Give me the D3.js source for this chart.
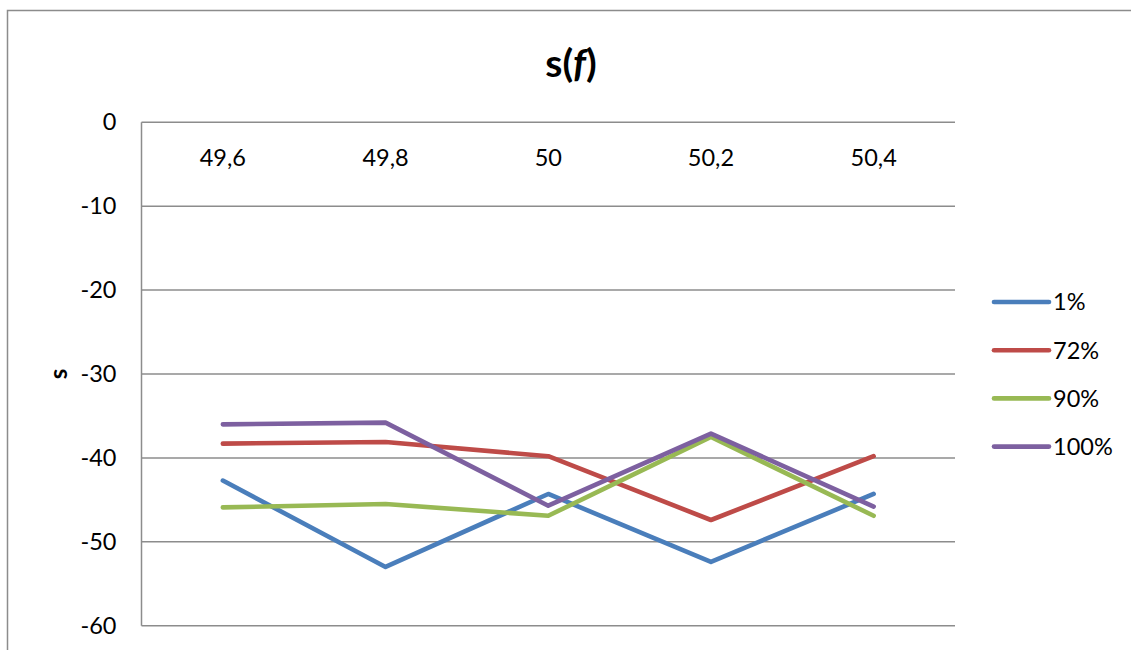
<!DOCTYPE html>
<html>
<head>
<meta charset="utf-8">
<script src="https://cdn.jsdelivr.net/npm/d3@7"></script>
<style>
  html, body { margin: 0; padding: 0; background: #fff; }
  svg { display: block; }
  text { font-family: Lato, "Open Sans", "Liberation Sans", sans-serif; fill: #000; }
</style>
</head>
<body>
<svg id="chart" width="1131" height="650"></svg>
<script>
// Frequency categories (x) and the series measured at each of them
const categories = ["49,6", "49,8", "50", "50,2", "50,4"];
const seriesNames = ["1%", "72%", "90%", "100%"];
const s1   = [-42.7, -53.0, -44.3, -52.4, -44.3];
const s72  = [-38.3, -38.1, -39.8, -47.4, -39.8];
const s90  = [-45.9, -45.5, -46.9, -37.5, -46.9];
const s100 = [-36.0, -35.8, -45.7, -37.1, -45.8];
const yTicks = [0, -10, -20, -30, -40, -50, -60];

const seriesValues = [s1, s72, s90, s100];
const colors = ["#4A7EBB", "#BE4B48", "#98B954", "#7D60A0"];

const svg = d3.select("#chart");
const W = 1131, H = 650;
const plot = { left: 141.5, right: 955, top: 122.3, bottom: 625.7 };
const labelFont = "23.5px";
const lineWidth = 4.6;

// outer chart frame
svg.append("rect")
  .attr("x", 7.5).attr("y", 10.5)
  .attr("width", W + 20).attr("height", H + 20)
  .attr("fill", "#fff").attr("stroke", "#8c8c8c").attr("stroke-width", 1.5);

const x = d3.scaleBand().domain(categories).range([plot.left, plot.right]);
const y = d3.scaleLinear().domain([-60, 0]).range([plot.bottom, plot.top]);

// horizontal gridlines
svg.append("g")
  .selectAll("line")
  .data(yTicks)
  .join("line")
  .attr("x1", plot.left).attr("x2", plot.right)
  .attr("y1", d => y(d)).attr("y2", d => y(d))
  .attr("stroke", "#8c8c8c").attr("stroke-width", 1.5);

// vertical axis line
svg.append("line")
  .attr("x1", plot.left).attr("x2", plot.left)
  .attr("y1", y(0)).attr("y2", y(-60))
  .attr("stroke", "#8c8c8c").attr("stroke-width", 1.5);

// y axis labels
const yAxis = d3.axisLeft(y).tickValues(yTicks).tickSize(0).tickPadding(25)
  .tickFormat(d => d === 0 ? "0" : "-" + Math.abs(d));
const gy = svg.append("g").attr("transform", `translate(${plot.left},0)`).call(yAxis);
gy.select(".domain").remove();
gy.selectAll("text")
  .style("font-family", "Lato, 'Open Sans', sans-serif")
  .style("font-size", labelFont).attr("fill", "#000");

// category labels sit just under the zero line
const xAxis = d3.axisBottom(x).tickSize(0).tickPadding(27);
const gx = svg.append("g").attr("transform", `translate(0,${y(0)})`).call(xAxis);
gx.select(".domain").remove();
gx.selectAll("text")
  .style("font-family", "Lato, 'Open Sans', sans-serif")
  .style("font-size", labelFont).attr("fill", "#000");

// series lines
const line = d3.line()
  .x((d, i) => x(categories[i]) + x.bandwidth() / 2)
  .y(d => y(d));

svg.append("g")
  .selectAll("path")
  .data(seriesValues)
  .join("path")
  .attr("d", d => line(d))
  .attr("fill", "none")
  .attr("stroke", (d, i) => colors[i])
  .attr("stroke-width", lineWidth)
  .attr("stroke-linecap", "round")
  .attr("stroke-linejoin", "round");

// title s(f)
const title = svg.append("text")
  .attr("x", 571).attr("y", 77)
  .attr("text-anchor", "middle")
  .style("font-size", "39px").style("font-weight", "bold");
title.append("tspan").text("s(");
title.append("tspan").style("font-style", "italic").text("f");
title.append("tspan").text(")");

// y axis title
svg.append("text")
  .attr("transform", "translate(67,374) rotate(-90)")
  .attr("text-anchor", "middle")
  .style("font-size", "24px").style("font-weight", "bold")
  .text("s");

// legend
const legend = svg.append("g")
  .selectAll("g")
  .data(seriesNames)
  .join("g")
  .attr("transform", (d, i) => `translate(994,${302 + i * 48.2})`);
legend.append("line")
  .attr("x1", 0).attr("x2", 55)
  .attr("stroke", (d, i) => colors[i])
  .attr("stroke-width", lineWidth).attr("stroke-linecap", "round");
legend.append("text")
  .attr("x", 59).attr("dy", "0.36em")
  .style("font-size", labelFont)
  .text(d => d);
</script>
</body>
</html>
